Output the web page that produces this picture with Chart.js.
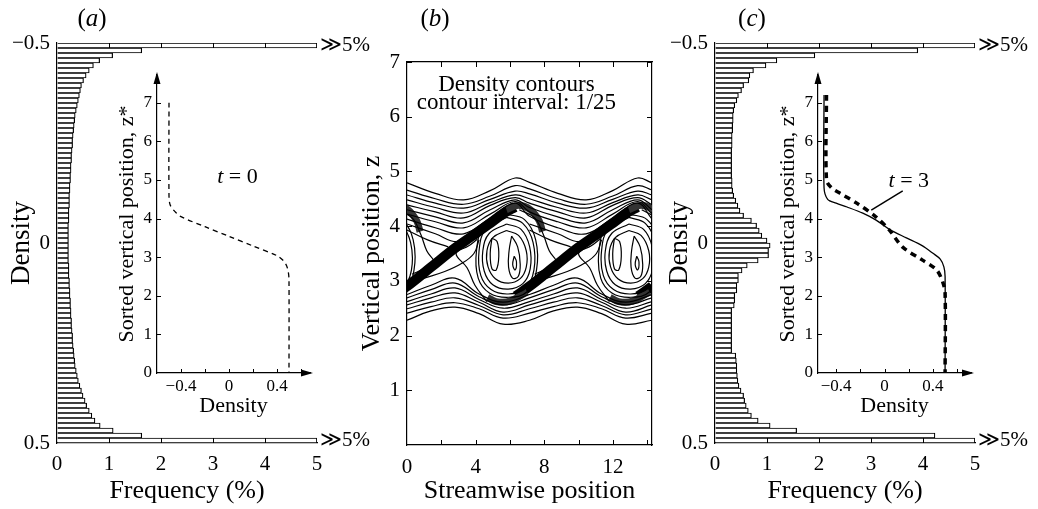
<!DOCTYPE html>
<html>
<head>
<meta charset="utf-8">
<script src="https://cdn.jsdelivr.net/npm/chart.js@4.4.1/dist/chart.umd.min.js"></script>
<style>
    html, body { margin: 0; padding: 0; background: #fff; }
    #wrap { position: relative; width: 1038px; height: 509px; overflow: hidden; font-family: 'Liberation Serif', serif; }
    canvas { position: absolute; }
    .tag { position: absolute; font-size: 25px; color: #000; transform: translateX(-50%); }
    .tag i { font-style: italic; }
</style>
</head>
<body>
<div id="wrap">
    <canvas id="histA" width="380" height="509" style="left:0;top:0"></canvas>
    <canvas id="insetA" width="240" height="370" style="left:90px;top:55px"></canvas>
    <canvas id="contours" width="330" height="469" style="left:340px;top:40px"></canvas>
    <canvas id="histC" width="380" height="509" style="left:658px;top:0"></canvas>
    <canvas id="insetC" width="240" height="370" style="left:751px;top:55px"></canvas>
    <div class="tag" style="left:92px;top:4px">(<i>a</i>)</div>
    <div class="tag" style="left:435px;top:4px">(<i>b</i>)</div>
    <div class="tag" style="left:752px;top:4px">(<i>c</i>)</div>
</div>
<script>
// ---- data ----

// histogram frequencies (%), 80 density bins from -0.5 (top) to 0.5 (bottom)
const freqA = [
    5, 1.63, 1.07, 0.82, 0.7, 0.62, 0.56, 0.51, 0.47, 0.45,
    0.43, 0.41, 0.39, 0.37, 0.35, 0.34, 0.33, 0.32, 0.31, 0.3,
    0.3, 0.29, 0.28, 0.28, 0.27, 0.27, 0.26, 0.26, 0.25, 0.25,
    0.24, 0.24, 0.24, 0.23, 0.23, 0.23, 0.22, 0.22, 0.22, 0.22,
    0.22, 0.22, 0.22, 0.22, 0.23, 0.23, 0.23, 0.24, 0.24, 0.25,
    0.25, 0.26, 0.26, 0.27, 0.27, 0.28, 0.28, 0.29, 0.3, 0.3,
    0.31, 0.32, 0.33, 0.34, 0.35, 0.37, 0.39, 0.41, 0.44, 0.47,
    0.5, 0.54, 0.57, 0.62, 0.67, 0.73, 0.83, 1.08, 1.63, 5,
];
const freqC = [
    5, 3.9, 1.92, 1.19, 0.98, 0.74, 0.67, 0.65, 0.55, 0.51,
    0.45, 0.42, 0.38, 0.36, 0.35, 0.35, 0.34, 0.34, 0.33, 0.33,
    0.33, 0.32, 0.32, 0.32, 0.32, 0.32, 0.32, 0.33, 0.33, 0.34,
    0.36, 0.4, 0.44, 0.48, 0.55, 0.7, 0.8, 0.85, 0.9, 1.0,
    1.06, 1.03, 1.03, 0.83, 0.62, 0.52, 0.45, 0.45, 0.42, 0.42,
    0.38, 0.38, 0.37, 0.32, 0.32, 0.32, 0.32, 0.32, 0.32, 0.32,
    0.32, 0.32, 0.4, 0.41, 0.42, 0.42, 0.43, 0.44, 0.46, 0.5,
    0.55, 0.57, 0.6, 0.64, 0.7, 0.83, 1.06, 1.57, 4.23, 5,
];
const binLabels = freqA.map((_, i) => 'bin' + i);

// tick values
const freqTicks = [0, 1, 2, 3, 4, 5];
const densTicks = [-0.5, 0, 0.5];
const insetRhoTicks = [-0.6, -0.4, -0.2, 0, 0.2, 0.4, 0.6];
const insetRhoLabels = [-0.4, 0, 0.4];
const insetZTicks = [0, 1, 2, 3, 4, 5, 6, 7];
const streamTicks = [0, 2, 4, 6, 8, 10, 12, 14];
const streamLabels = [0, 4, 8, 12];
const vertTicks = [0, 1, 2, 3, 4, 5, 6, 7];

// sorted profiles [density, z*]
const profileT0 = [[-0.5, 7], [-0.5, 4.6], [-0.49, 4.35], [-0.45, 4.18], [-0.4, 4.05], [-0.2, 3.79], [0, 3.54],
    [0.2, 3.29], [0.4, 3.04], [0.45, 2.92], [0.48, 2.78], [0.495, 2.6], [0.5, 2.4], [0.5, 0]];
const profileT3Solid = [[-0.5, 7.2], [-0.5, 4.8], [-0.47, 4.5], [-0.4, 4.4], [-0.31, 4.3], [-0.18, 4.14], [-0.07, 3.96],
    [0.04, 3.72], [0.18, 3.5], [0.31, 3.3], [0.4, 3.1], [0.46, 2.95], [0.49, 2.75], [0.5, 2.5], [0.5, 0]];
const profileT3Dashed = [[-0.48, 7.2], [-0.48, 5.0], [-0.44, 4.8], [-0.37, 4.66], [-0.23, 4.4], [-0.07, 4.04], [0.04, 3.7],
    [0.15, 3.26], [0.31, 2.93], [0.43, 2.67], [0.48, 2.36], [0.5, 2.07], [0.5, 0]];
const leaderT3 = [[-0.11, 4.22], [0.15, 4.72]];

// density contours, panel (b): streamwise x, vertical z
const upperX = [0, 1.65, 3.3, 4.85, 6.3, 7.14, 8.79, 10.44, 11.99, 13.44, 14.28];
const upperZ = [
    [4.79, 4.6, 4.48, 4.65, 4.88, 4.8, 4.6, 4.48, 4.65, 4.88, 4.79],
    [4.66, 4.5, 4.4, 4.55, 4.74, 4.68, 4.5, 4.4, 4.55, 4.74, 4.66],
    [4.57, 4.42, 4.33, 4.49, 4.64, 4.59, 4.42, 4.33, 4.49, 4.64, 4.57],
    [4.48, 4.34, 4.24, 4.43, 4.57, 4.5, 4.34, 4.24, 4.43, 4.57, 4.48],
    [4.39, 4.26, 4.15, 4.38, 4.52, 4.42, 4.26, 4.15, 4.38, 4.52, 4.39],
    [4.3, 4.17, 4.06, 4.3, 4.48, 4.34, 4.17, 4.06, 4.3, 4.48, 4.3],
    [4.22, 4.08, 3.97, 4.22, 4.45, 4.26, 4.08, 3.97, 4.22, 4.45, 4.22],
    [4.13, 3.97, 3.86, 4.15, 4.42, 4.18, 3.97, 3.86, 4.15, 4.42, 4.13],
];
const lowerX = [0, 1.4, 2.8, 4.2, 5.6, 7.14, 8.54, 9.94, 11.34, 12.74, 14.28];
const lowerZ = [
    [2.28, 2.45, 2.52, 2.4, 2.21, 2.28, 2.45, 2.52, 2.4, 2.21, 2.28],
    [2.41, 2.53, 2.6, 2.49, 2.32, 2.41, 2.53, 2.6, 2.49, 2.32, 2.41],
    [2.49, 2.61, 2.69, 2.55, 2.38, 2.49, 2.61, 2.69, 2.55, 2.38, 2.49],
    [2.56, 2.69, 2.78, 2.61, 2.43, 2.56, 2.69, 2.78, 2.61, 2.43, 2.56],
    [2.62, 2.76, 2.87, 2.66, 2.5, 2.62, 2.76, 2.87, 2.66, 2.5, 2.62],
    [2.69, 2.84, 2.96, 2.71, 2.56, 2.69, 2.84, 2.96, 2.71, 2.56, 2.69],
    [2.75, 2.92, 3.05, 2.76, 2.61, 2.75, 2.92, 3.05, 2.76, 2.61, 2.75],
];
// lines that fold into the braid
const braidSideLines = [
    [[0, 4.04], [1.65, 3.86], [3.0, 3.72], [4.5, 4.0]],
    [[7.14, 4.04], [8.79, 3.86], [10.14, 3.72], [11.64, 4.0]],
    [[0, 3.93], [1.2, 3.75], [2.4, 3.62]],
    [[7.14, 3.93], [8.34, 3.75], [9.54, 3.62]],
    [[1.0, 3.05], [2.2, 3.17], [3.2, 3.32], [3.9, 3.5], [4.2, 3.75]],
    [[8.14, 3.05], [9.34, 3.17], [10.34, 3.32], [11.04, 3.5], [11.34, 3.75]],
    [[-0.6, 4.3], [0.3, 4.15], [0.8, 3.85], [1.15, 3.55], [1.6, 3.32], [1.0, 3.22], [0.3, 3.12]],
    [[6.54, 4.3], [7.44, 4.15], [7.94, 3.85], [8.29, 3.55], [8.74, 3.32], [8.14, 3.22], [7.44, 3.12]],
    [[13.68, 4.3], [14.58, 4.15]],
    [[4.66, 2.62], [3.96, 2.92], [3.5, 3.24], [2.86, 3.5], [3.6, 3.64], [4.1, 3.76]],
    [[11.8, 2.62], [11.1, 2.92], [10.64, 3.24], [10.0, 3.5], [10.74, 3.64], [11.24, 3.76]],
];
// closed contours round the billow cores
const vortexRings = [
    [[5.8, 4.22], [6.85, 4.12], [7.5, 3.75], [7.55, 3.2], [7.0, 2.8], [5.9, 2.7], [4.8, 2.78], [4.15, 3.05], [4.05, 3.55], [4.5, 4.0], [5.8, 4.22]],
    [[5.8, 4.16], [6.75, 4.05], [7.35, 3.7], [7.4, 3.2], [6.9, 2.86], [5.9, 2.76], [4.9, 2.84], [4.3, 3.1], [4.2, 3.55], [4.6, 3.95], [5.8, 4.16]],
    [[5.8, 4.04], [6.65, 3.94], [7.15, 3.62], [7.18, 3.22], [6.75, 2.95], [5.9, 2.85], [5.0, 2.93], [4.5, 3.18], [4.42, 3.55], [4.8, 3.87], [5.8, 4.04]],
    [[5.8, 3.92], [6.5, 3.83], [6.95, 3.55], [6.95, 3.25], [6.6, 3.04], [5.9, 2.96], [5.15, 3.04], [4.72, 3.26], [4.66, 3.55], [5.0, 3.79], [5.8, 3.92]],
    [[4.95, 3.78], [5.25, 3.72], [5.35, 3.45], [5.2, 3.2], [4.95, 3.22], [4.85, 3.5], [4.95, 3.78]],
    [[6.1, 3.82], [6.45, 3.62], [6.6, 3.3], [6.48, 3.08], [6.15, 3.05], [5.92, 3.25], [5.95, 3.55], [6.1, 3.82]],
    [[6.25, 3.45], [6.38, 3.35], [6.3, 3.2], [6.16, 3.3], [6.25, 3.45]],
    [[12.94, 4.22], [13.99, 4.12], [14.64, 3.75], [14.69, 3.2], [14.14, 2.8], [13.04, 2.7], [11.94, 2.78], [11.29, 3.05], [11.19, 3.55], [11.64, 4.0], [12.94, 4.22]],
    [[12.94, 4.16], [13.89, 4.05], [14.49, 3.7], [14.54, 3.2], [14.04, 2.86], [13.04, 2.76], [12.04, 2.84], [11.44, 3.1], [11.34, 3.55], [11.74, 3.95], [12.94, 4.16]],
    [[12.94, 4.04], [13.79, 3.94], [14.29, 3.62], [14.32, 3.22], [13.89, 2.95], [13.04, 2.85], [12.14, 2.93], [11.64, 3.18], [11.56, 3.55], [11.94, 3.87], [12.94, 4.04]],
    [[12.94, 3.92], [13.64, 3.83], [14.09, 3.55], [14.09, 3.25], [13.74, 3.04], [13.04, 2.96], [12.29, 3.04], [11.86, 3.26], [11.8, 3.55], [12.14, 3.79], [12.94, 3.92]],
    [[12.09, 3.78], [12.39, 3.72], [12.49, 3.45], [12.34, 3.2], [12.09, 3.22], [11.99, 3.5], [12.09, 3.78]],
    [[13.24, 3.82], [13.59, 3.62], [13.74, 3.3], [13.62, 3.08], [13.29, 3.05], [13.06, 3.25], [13.09, 3.55], [13.24, 3.82]],
    [[13.39, 3.45], [13.52, 3.35], [13.44, 3.2], [13.3, 3.3], [13.39, 3.45]],
    [[-1.34, 4.22], [-0.29, 4.12], [0.36, 3.75], [0.41, 3.2], [-0.14, 2.8], [-1.24, 2.7]],
    [[-1.34, 4.16], [-0.39, 4.05], [0.21, 3.7], [0.26, 3.2], [-0.24, 2.86], [-1.24, 2.76]],
];
// the braid, where contours are packed into a black band
const braidBands = [
    [[-0.8, 2.72], [0, 2.9], [1.4, 3.25], [2.8, 3.6], [3.8, 3.82], [4.7, 4.02], [5.7, 4.25], [6.3, 4.35]],
    [[6.34, 2.72], [7.14, 2.9], [8.54, 3.25], [9.94, 3.6], [10.94, 3.82], [11.84, 4.02], [12.84, 4.25], [13.44, 4.35]],
    [[13.48, 2.72], [14.28, 2.9], [15.0, 3.08]],
];
// packed (hatched-looking) arms wrapping round each core
const braidArms = [
    [[-1.4, 4.36], [-0.64, 4.38], [0.06, 4.3], [0.56, 4.1], [0.76, 3.9]],
    [[5.8, 4.3], [6.5, 4.38], [7.2, 4.3], [7.7, 4.1], [7.9, 3.9]],
    [[12.94, 4.3], [13.64, 4.38], [14.34, 4.3], [14.84, 4.1]],
    [[7.0, 2.8], [6.0, 2.63], [5.2, 2.62], [4.7, 2.7]],
    [[14.14, 2.8], [13.14, 2.63], [12.34, 2.62], [11.84, 2.7]],
];

// ---- helpers ----
const SERIF = "'Liberation Serif', 'Times New Roman', serif";
Chart.defaults.font.family = SERIF;
Chart.defaults.color = '#000';

const pts = (pairs) => pairs.map((p) => ({ x: p[0], y: p[1] }));
const zip = (xs, zs) => xs.map((x, i) => ({ x: x, y: zs[i] }));
const minus = (v) => (v < 0 ? '\u2212' + Math.abs(v) : String(v));
const setTicks = (values) => (s) => { s.ticks = values.map((v) => ({ value: v })); };
const noGrid = { drawOnChartArea: false, drawTicks: false };
const blackBorder = { color: '#000', width: 1.2 };

// tick marks drawn inward from the frame
const innerTicks = {
    id: 'innerTicks',
    afterDraw(chart, args, opts) {
        const a = chart.chartArea;
        const ctx = chart.ctx;
        ctx.save();
        ctx.strokeStyle = '#000';
        ctx.lineWidth = 1;
        (opts.marks || []).forEach((m) => {
            const s = chart.scales[m.scale];
            m.values.forEach((v) => {
                const p = Math.round(s.getPixelForValue(v)) + 0.5;
                ctx.beginPath();
                if (m.edge === 'bottom') { ctx.moveTo(p, a.bottom); ctx.lineTo(p, a.bottom - m.len); }
                if (m.edge === 'top') { ctx.moveTo(p, a.top); ctx.lineTo(p, a.top + m.len); }
                if (m.edge === 'left') { ctx.moveTo(a.left, p); ctx.lineTo(a.left + m.len, p); }
                if (m.edge === 'right') { ctx.moveTo(a.right, p); ctx.lineTo(a.right - m.len, p); }
                ctx.stroke();
            });
        });
        ctx.restore();
    },
};

// arrow heads on the inset axes
const axisArrows = {
    id: 'axisArrows',
    afterDraw(chart) {
        const { ctx, chartArea: a } = chart;
        ctx.save();
        ctx.fillStyle = '#000';
        ctx.beginPath();
        ctx.moveTo(a.left, a.top - 3);
        ctx.lineTo(a.left - 3.5, a.top + 9);
        ctx.lineTo(a.left + 3.5, a.top + 9);
        ctx.fill();
        ctx.beginPath();
        ctx.moveTo(a.right + 3, a.bottom);
        ctx.lineTo(a.right - 9, a.bottom - 3.5);
        ctx.lineTo(a.right - 9, a.bottom + 3.5);
        ctx.fill();
        ctx.restore();
    },
};

// text placed in data coordinates, with italic parts
const notes = {
    id: 'notes',
    afterDatasetsDraw(chart, args, opts) {
        const ctx = chart.ctx;
        (opts.items || []).forEach((it) => {
            const x = chart.scales.x.getPixelForValue(it.x);
            const y = chart.scales.y.getPixelForValue(it.y);
            ctx.save();
            ctx.fillStyle = '#000';
            ctx.textBaseline = 'middle';
            let total = 0;
            const parts = it.parts.map((p) => {
                ctx.font = (p.italic ? 'italic ' : '') + it.size + 'px ' + SERIF;
                const w = ctx.measureText(p.t).width;
                total += w;
                return { t: p.t, italic: p.italic, w: w };
            });
            let cx = x - total / 2;
            parts.forEach((p) => {
                ctx.font = (p.italic ? 'italic ' : '') + it.size + 'px ' + SERIF;
                ctx.fillText(p.t, cx, y);
                cx += p.w;
            });
            ctx.restore();
        });
    },
};

// "≫ 5%" beside the clipped bars
const overflowLabels = {
    id: 'overflowLabels',
    afterDatasetsDraw(chart, args, opts) {
        const ctx = chart.ctx;
        const meta = chart.getDatasetMeta(0);
        const data = chart.data.datasets[0].data;
        ctx.save();
        ctx.fillStyle = '#000';
        ctx.textBaseline = 'middle';
        ctx.font = '21px ' + SERIF;
        data.forEach((v, i) => {
            if (v >= opts.limit) ctx.fillText('\u226B5%', meta.data[i].x + 3, meta.data[i].y);
        });
        ctx.restore();
    },
};

// ---- histograms (a) and (c) ----
function makeHistogram(id, freq) {
    return new Chart(document.getElementById(id), {
        type: 'bar',
        data: {
            labels: binLabels,
            datasets: [{
                data: freq,
                backgroundColor: '#fff',
                borderColor: '#000',
                borderWidth: 1.2,
                barPercentage: 1,
                categoryPercentage: 1,
            }],
        },
        options: {
            indexAxis: 'y',
            responsive: false,
            animation: false,
            layout: { padding: { top: 43, right: 63, left: 0, bottom: 0 } },
            scales: {
                x: {
                    type: 'linear', min: 0, max: 5, offset: false,
                    afterBuildTicks: setTicks(freqTicks),
                    afterFit: (s) => { s.height = 66; },
                    grid: noGrid, border: blackBorder,
                    ticks: { font: { size: 21 }, padding: 9 },
                    title: { display: true, text: 'Frequency (%)', font: { size: 26 }, padding: { top: 0, bottom: 2 } },
                },
                y: { display: false, offset: true },
                yd: {
                    type: 'linear', position: 'left', reverse: true, min: -0.5, max: 0.5, offset: false,
                    afterBuildTicks: setTicks(densTicks),
                    afterFit: (s) => { s.width = 57; },
                    grid: noGrid, border: blackBorder,
                    ticks: { font: { size: 21 }, padding: 7, callback: minus },
                    title: { display: true, text: 'Density', font: { size: 27 }, padding: { top: 6, bottom: 0 } },
                },
            },
            plugins: {
                legend: { display: false },
                tooltip: { enabled: false },
                overflowLabels: { limit: 5 },
                innerTicks: {
                    marks: [
                        { scale: 'x', edge: 'bottom', values: [1, 2, 3, 4], len: 5 },
                        { scale: 'x', edge: 'top', values: [1, 2, 3, 4], len: 5 },
                    ],
                },
            },
        },
        plugins: [overflowLabels, innerTicks],
    });
}

// ---- sorted-profile insets ----
function makeInset(id, rhoMin, rhoMax, datasets, noteItems) {
    return new Chart(document.getElementById(id), {
        type: 'line',
        data: { datasets: datasets },
        options: {
            responsive: false,
            animation: false,
            layout: { padding: { top: 20, right: 20, left: 0, bottom: 0 } },
            elements: { point: { radius: 0 }, line: { tension: 0.3 } },
            scales: {
                x: {
                    type: 'linear', min: rhoMin, max: rhoMax,
                    afterBuildTicks: setTicks(insetRhoTicks.filter((v) => v >= rhoMin)),
                    afterFit: (s) => { s.height = 52; },
                    grid: noGrid, border: blackBorder,
                    ticks: {
                        font: { size: 17 }, padding: 3, maxRotation: 0, autoSkip: false,
                        callback: (v) => (insetRhoLabels.includes(v) ? minus(v) : ''),
                    },
                    title: { display: true, text: 'Density', font: { size: 22 }, padding: { top: 0, bottom: 6 } },
                },
                y: {
                    type: 'linear', min: 0, max: 7.72,
                    afterBuildTicks: setTicks(insetZTicks),
                    afterFit: (s) => { s.width = 67; },
                    grid: noGrid, border: blackBorder,
                    ticks: { font: { size: 17 }, padding: 5, autoSkip: false },
                    title: { display: true, text: 'Sorted vertical position, z*', font: { size: 22 }, padding: { top: 24, bottom: 0 } },
                },
            },
            plugins: {
                legend: { display: false },
                tooltip: { enabled: false },
                notes: { items: noteItems },
                innerTicks: {
                    marks: [
                        { scale: 'x', edge: 'bottom', values: insetRhoTicks.filter((v) => v > rhoMin), len: 4 },
                        { scale: 'y', edge: 'left', values: insetZTicks.slice(1), len: 4 },
                    ],
                },
            },
        },
        plugins: [axisArrows, notes, innerTicks],
    });
}

makeHistogram('histA', freqA);
makeHistogram('histC', freqC);

makeInset('insetA', -0.6, 0.675, [
    { data: pts(profileT0), borderColor: '#000', borderWidth: 1.3, borderDash: [5, 4] },
], [{ x: 0.07, y: 5.08, size: 22, parts: [{ t: 't', italic: true }, { t: ' = 0' }] }]);

makeInset('insetC', -0.55, 0.714, [
    { data: pts(profileT3Solid), borderColor: '#000', borderWidth: 1.3 },
    { data: pts(profileT3Dashed), borderColor: '#000', borderWidth: 3.5, borderDash: [6, 5] },
    { data: pts(leaderT3), borderColor: '#000', borderWidth: 1.5, tension: 0 },
], [{ x: 0.2, y: 4.97, size: 22, parts: [{ t: 't', italic: true }, { t: ' = 3' }] }]);

// ---- contour panel (b) ----
const thin = (data) => ({ data: data, borderColor: '#000', borderWidth: 1.2, clip: 0 });
const contourSets = [
    ...upperZ.map((zs) => thin(zip(upperX, zs))),
    ...lowerZ.map((zs) => thin(zip(lowerX, zs))),
    ...braidSideLines.map((l) => thin(pts(l))),
    ...vortexRings.map((l) => thin(pts(l))),
    ...braidArms.map((l) => ({ data: pts(l), borderColor: '#333', borderWidth: 7, clip: 0 })),
    ...braidBands.map((l) => ({ data: pts(l), borderColor: '#000', borderWidth: 10, clip: 0 })),
];

new Chart(document.getElementById('contours'), {
    type: 'line',
    data: { datasets: contourSets },
    options: {
        responsive: false,
        animation: false,
        layout: { padding: { top: 22, right: 18, left: 0, bottom: 0 } },
        elements: { point: { radius: 0 }, line: { tension: 0.4 } },
        scales: {
            x: {
                type: 'linear', min: 0, max: 14.28,
                afterBuildTicks: setTicks(streamTicks),
                afterFit: (s) => { s.height = 64; },
                grid: noGrid, border: blackBorder,
                ticks: { font: { size: 21 }, padding: 10, autoSkip: false, maxRotation: 0,
                    callback: (v) => (streamLabels.includes(v) ? String(v) : '') },
                title: { display: true, text: 'Streamwise position', font: { size: 26 }, padding: { top: 0, bottom: 2 } },
            },
            y: {
                type: 'linear', min: 0, max: 7,
                afterBuildTicks: setTicks(vertTicks),
                afterFit: (s) => { s.width = 67; },
                grid: noGrid, border: blackBorder,
                ticks: { font: { size: 21 }, padding: 7, autoSkip: false, callback: (v) => (v === 0 ? '' : String(v)) },
                title: { display: true, text: 'Vertical position, z', font: { size: 26 }, padding: { top: 17, bottom: 0 } },
            },
            x2: {
                type: 'linear', position: 'top', min: 0, max: 1,
                afterFit: (s) => { s.height = 0; },
                grid: noGrid, border: blackBorder, ticks: { display: false },
            },
            y2: {
                type: 'linear', position: 'right', min: 0, max: 1,
                afterFit: (s) => { s.width = 0; },
                grid: noGrid, border: blackBorder, ticks: { display: false },
            },
        },
        plugins: {
            legend: { display: false },
            tooltip: { enabled: false },
            notes: {
                items: [
                    { x: 6.38, y: 6.58, size: 23, parts: [{ t: 'Density contours' }] },
                    { x: 6.38, y: 6.25, size: 23, parts: [{ t: 'contour interval: 1/25' }] },
                ],
            },
            innerTicks: {
                marks: [
                    { scale: 'x', edge: 'bottom', values: streamTicks.slice(1), len: 5 },
                    { scale: 'x', edge: 'top', values: streamTicks.slice(1), len: 5 },
                    { scale: 'y', edge: 'left', values: vertTicks.slice(1), len: 5 },
                    { scale: 'y', edge: 'right', values: vertTicks.slice(1), len: 5 },
                ],
            },
        },
    },
    plugins: [notes, innerTicks],
});
</script>
</body>
</html>
